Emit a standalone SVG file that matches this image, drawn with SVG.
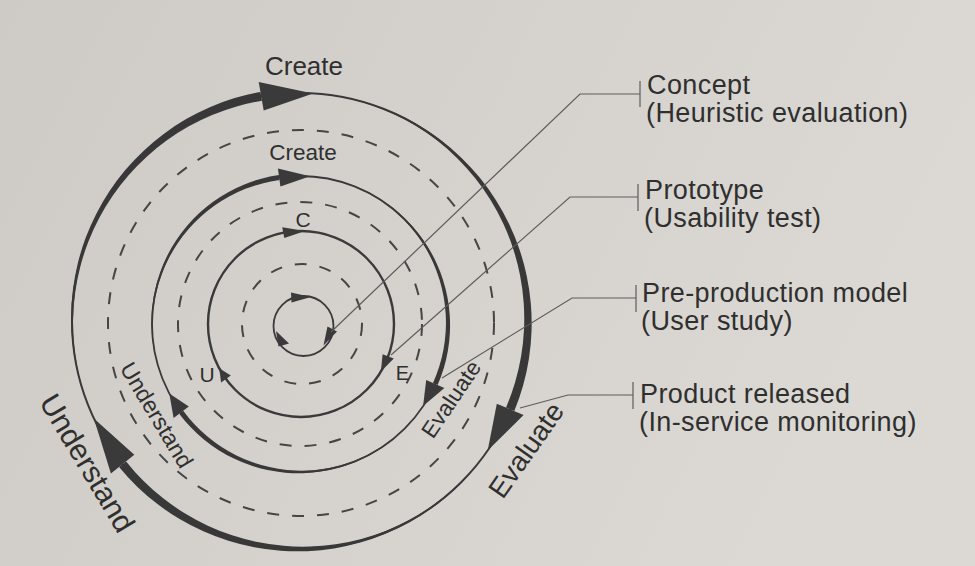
<svg xmlns="http://www.w3.org/2000/svg" width="975" height="566" viewBox="0 0 975 566">
<defs>
<linearGradient id="bg" x1="0" y1="0" x2="1" y2="0.3">
<stop offset="0" stop-color="#cecbc6"/>
<stop offset="1" stop-color="#dcd9d4"/>
</linearGradient>
<style>
.thin{fill:none;stroke:#3a3a3a}
.dash{fill:none;stroke:#454545;stroke-width:2;stroke-dasharray:12 13}
.rib{fill:#383838;stroke:none}
.head{fill:#3a3a3a;stroke:none}
.lead{fill:none;stroke:#5c5c5c;stroke-width:1.2}
.lbl{font-family:"Liberation Sans",Arial,sans-serif;fill:#2f2f2f}
.rt{font-size:27px;letter-spacing:0.4px}
</style>
</defs>
<rect width="975" height="566" fill="url(#bg)"/>

<g id="dashed-rings">
<circle class="dash" cx="301" cy="323" r="193"/>
<circle class="dash" cx="300" cy="324" r="122"/>
<circle class="dash" cx="302" cy="324" r="60"/>
</g>

<g id="loop-outer">
<circle class="thin" cx="300" cy="321" r="228" stroke-width="2"/>
<path class="rib" d="M 93.9 418.4 A 230.25 230.25 0 0 1 260.4 91.9 L 262.0 100.8 A 225.75 225.75 0 0 0 93.9 418.4 Z"/>
<path class="rib" d="M 313.1 93.4 A 230.25 230.25 0 0 1 514.3 411.1 L 506.0 407.6 A 225.75 225.75 0 0 0 313.1 93.4 Z"/>
<path class="rib" d="M 487.7 450.5 A 230.25 230.25 0 0 1 119.1 467.0 L 126.1 461.4 A 225.75 225.75 0 0 0 487.7 450.5 Z"/>
<polygon class="head" points="258.7,82.0 263.7,110.6 313.1,93.4"/>
<polygon class="head" points="523.6,415.0 496.8,403.8 487.7,450.5"/>
<polygon class="head" points="110.9,473.6 134.3,454.8 93.9,418.4"/>
</g>

<g id="loop-middle">
<circle class="thin" cx="300" cy="324" r="148" stroke-width="1.8"/>
<path class="rib" d="M 169.3 393.5 A 149.25 149.25 0 0 1 278.8 175.0 L 279.5 180.0 A 146.75 146.75 0 0 0 169.3 393.5 Z"/>
<path class="rib" d="M 310.1 176.3 A 149.25 149.25 0 0 1 437.6 385.0 L 433.0 382.9 A 146.75 146.75 0 0 0 310.1 176.3 Z"/>
<path class="rib" d="M 423.1 406.1 A 149.25 149.25 0 0 1 179.2 413.7 L 183.2 410.7 A 146.75 146.75 0 0 0 423.1 406.1 Z"/>
<polygon class="head" points="277.9,168.6 280.4,186.4 310.1,176.3"/>
<polygon class="head" points="444.4,388.0 426.2,379.9 423.1,406.1"/>
<polygon class="head" points="173.6,417.9 188.8,406.5 169.3,393.5"/>
</g>

<g id="loop-inner">
<circle class="thin" cx="301" cy="324" r="93" stroke-width="2.4"/>
<polygon class="head" points="282.2,227.3 284.3,238.1 305.1,231.1"/>
<polygon class="head" points="393.8,358.5 382.6,354.3 380.9,371.6"/>
<polygon class="head" points="221.1,382.4 230.8,375.4 219.2,368.2"/>
</g>

<g id="loop-core">
<circle class="thin" cx="303.5" cy="326" r="30" stroke-width="1.8"/>
<polygon class="head" points="291,292.5 291.5,302.5 311,297"/>
<polygon class="head" points="327.5,326.5 337,331.5 323.5,345.5"/>
<polygon class="head" points="276,331 278.5,346.5 289,343.5"/>
</g>

<g id="connectors">
<polyline class="lead" points="331,332 580,94 640,94"/>
<line class="lead" x1="640" y1="81" x2="640" y2="107"/>
<polyline class="lead" points="391,355 570,197 638,197"/>
<line class="lead" x1="638" y1="184" x2="638" y2="211"/>
<polyline class="lead" points="442,378 572,298 636,298"/>
<line class="lead" x1="636" y1="285" x2="636" y2="312"/>
<polyline class="lead" points="520,408 568,395 633,395"/>
<line class="lead" x1="633" y1="382" x2="633" y2="409"/>
</g>

<g id="cycle-labels" class="lbl">
<text x="304" y="75" font-size="26" text-anchor="middle">Create</text>
<text x="303" y="160" font-size="22.5" text-anchor="middle">Create</text>
<text x="303" y="227" font-size="21" text-anchor="middle">C</text>
<text x="207" y="382" font-size="21" text-anchor="middle">U</text>
<text x="402.5" y="380" font-size="20" text-anchor="middle">E</text>
<text transform="translate(87.5,463) rotate(59)" x="0" y="10.5" font-size="30" text-anchor="middle">Understand</text>
<text transform="translate(156.7,415) rotate(59)" x="0" y="8" font-size="23" text-anchor="middle">Understand</text>
<text transform="translate(450.8,399) rotate(-56)" x="0" y="8" font-size="22.5" text-anchor="middle">Evaluate</text>
<text transform="translate(525.8,450) rotate(-55)" x="0" y="10" font-size="28" text-anchor="middle">Evaluate</text>
</g>

<g id="stage-concept" class="lbl rt">
<text x="647" y="94">Concept</text>
<text x="646" y="122">(Heuristic evaluation)</text>
</g>
<g id="stage-prototype" class="lbl rt">
<text x="645" y="199">Prototype</text>
<text x="644" y="227">(Usability test)</text>
</g>
<g id="stage-preproduction" class="lbl rt">
<text x="642" y="302">Pre-production model</text>
<text x="641" y="330">(User study)</text>
</g>
<g id="stage-released" class="lbl rt">
<text x="640" y="403">Product released</text>
<text x="639" y="431">(In-service monitoring)</text>
</g>
</svg>
